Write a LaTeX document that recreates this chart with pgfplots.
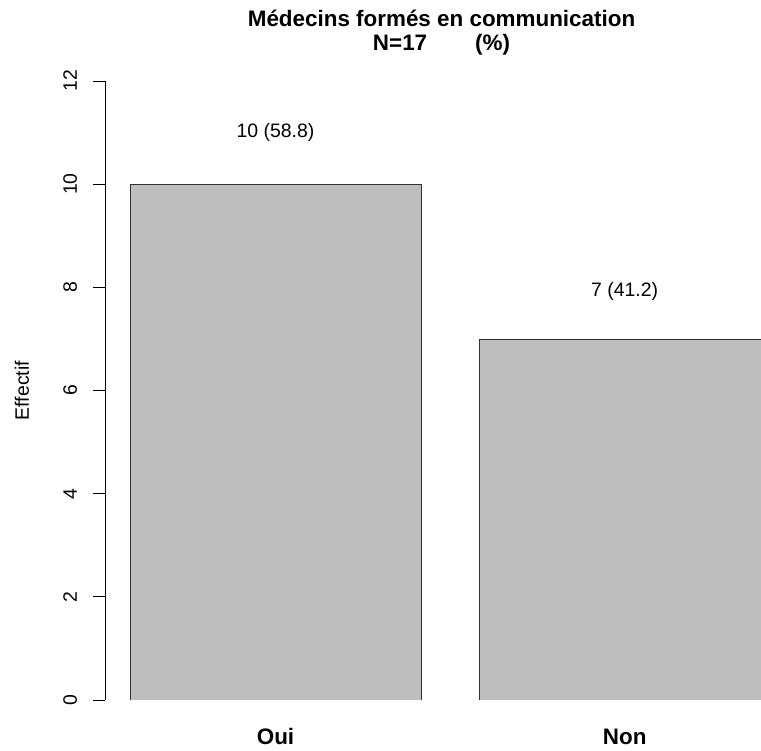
\documentclass[border=0pt]{standalone}
\usepackage{pgfplots}
\pgfplotsset{compat=1.18}
\usepackage{fontspec}
\setmainfont{Liberation Sans}
\definecolor{bargray}{RGB}{190,190,190}
\definecolor{edge}{RGB}{50,50,50}
\begin{document}
\begin{tikzpicture}
\useasboundingbox (0,0) rectangle (761bp,751bp);
\begin{axis}[
  at={(105bp,51bp)}, anchor=south west,
  scale only axis, width=656bp, height=619bp,
  xmin=0.1141, xmax=2.3684, ymin=0, ymax=12,
  axis y line*=left, axis x line*=bottom,
  x axis line style={draw=none},
  y axis line style={line width=0.8bp, black},
  ytick={0,2,...,12},
  xtick={0.7,1.9}, xticklabels={Oui,Non},
  xtick style={draw=none},
  ytick style={line width=0.8bp, black},
  tick align=outside,
  major tick length=12bp,
  /pgf/number format/assume math mode=true,
  yticklabel style={rotate=90, anchor=base, font=\fontsize{19.5}{20}\selectfont},
  yticklabel shift=16bp,
  xticklabel style={anchor=base, yshift=-32bp, font=\bfseries\fontsize{22.5}{24}\selectfont},
  ylabel={Effectif},
  ylabel style={at={(axis description cs:-0.1159,0.5)}, anchor=base, font=\fontsize{19.5}{20}\selectfont},
  title={Médecins formés en communication\\N=17\hspace{48bp}(\%)\hspace{18bp}},
  title style={align=center, font=\bfseries\fontsize{22.5}{24}\selectfont, at={(axis description cs:0.513,1.0404)}, anchor=base},
  point meta=explicit symbolic,
]
\addplot[ybar, bar width=1, bar shift=0pt, fill=bargray, draw=edge, line width=0.8bp]
  coordinates {(0.7,10) (1.9,7)};
\addplot[draw=none, mark=none, nodes near coords, nodes near coords align={center},
  every node near coord/.append style={anchor=center, font=\fontsize{19.5}{20}\selectfont, text=black}]
  coordinates {(0.7,11.0) [{10 (58.8)}] (1.9,7.91) [{7 (41.2)}]};
\end{axis}
\end{tikzpicture}
\end{document}
